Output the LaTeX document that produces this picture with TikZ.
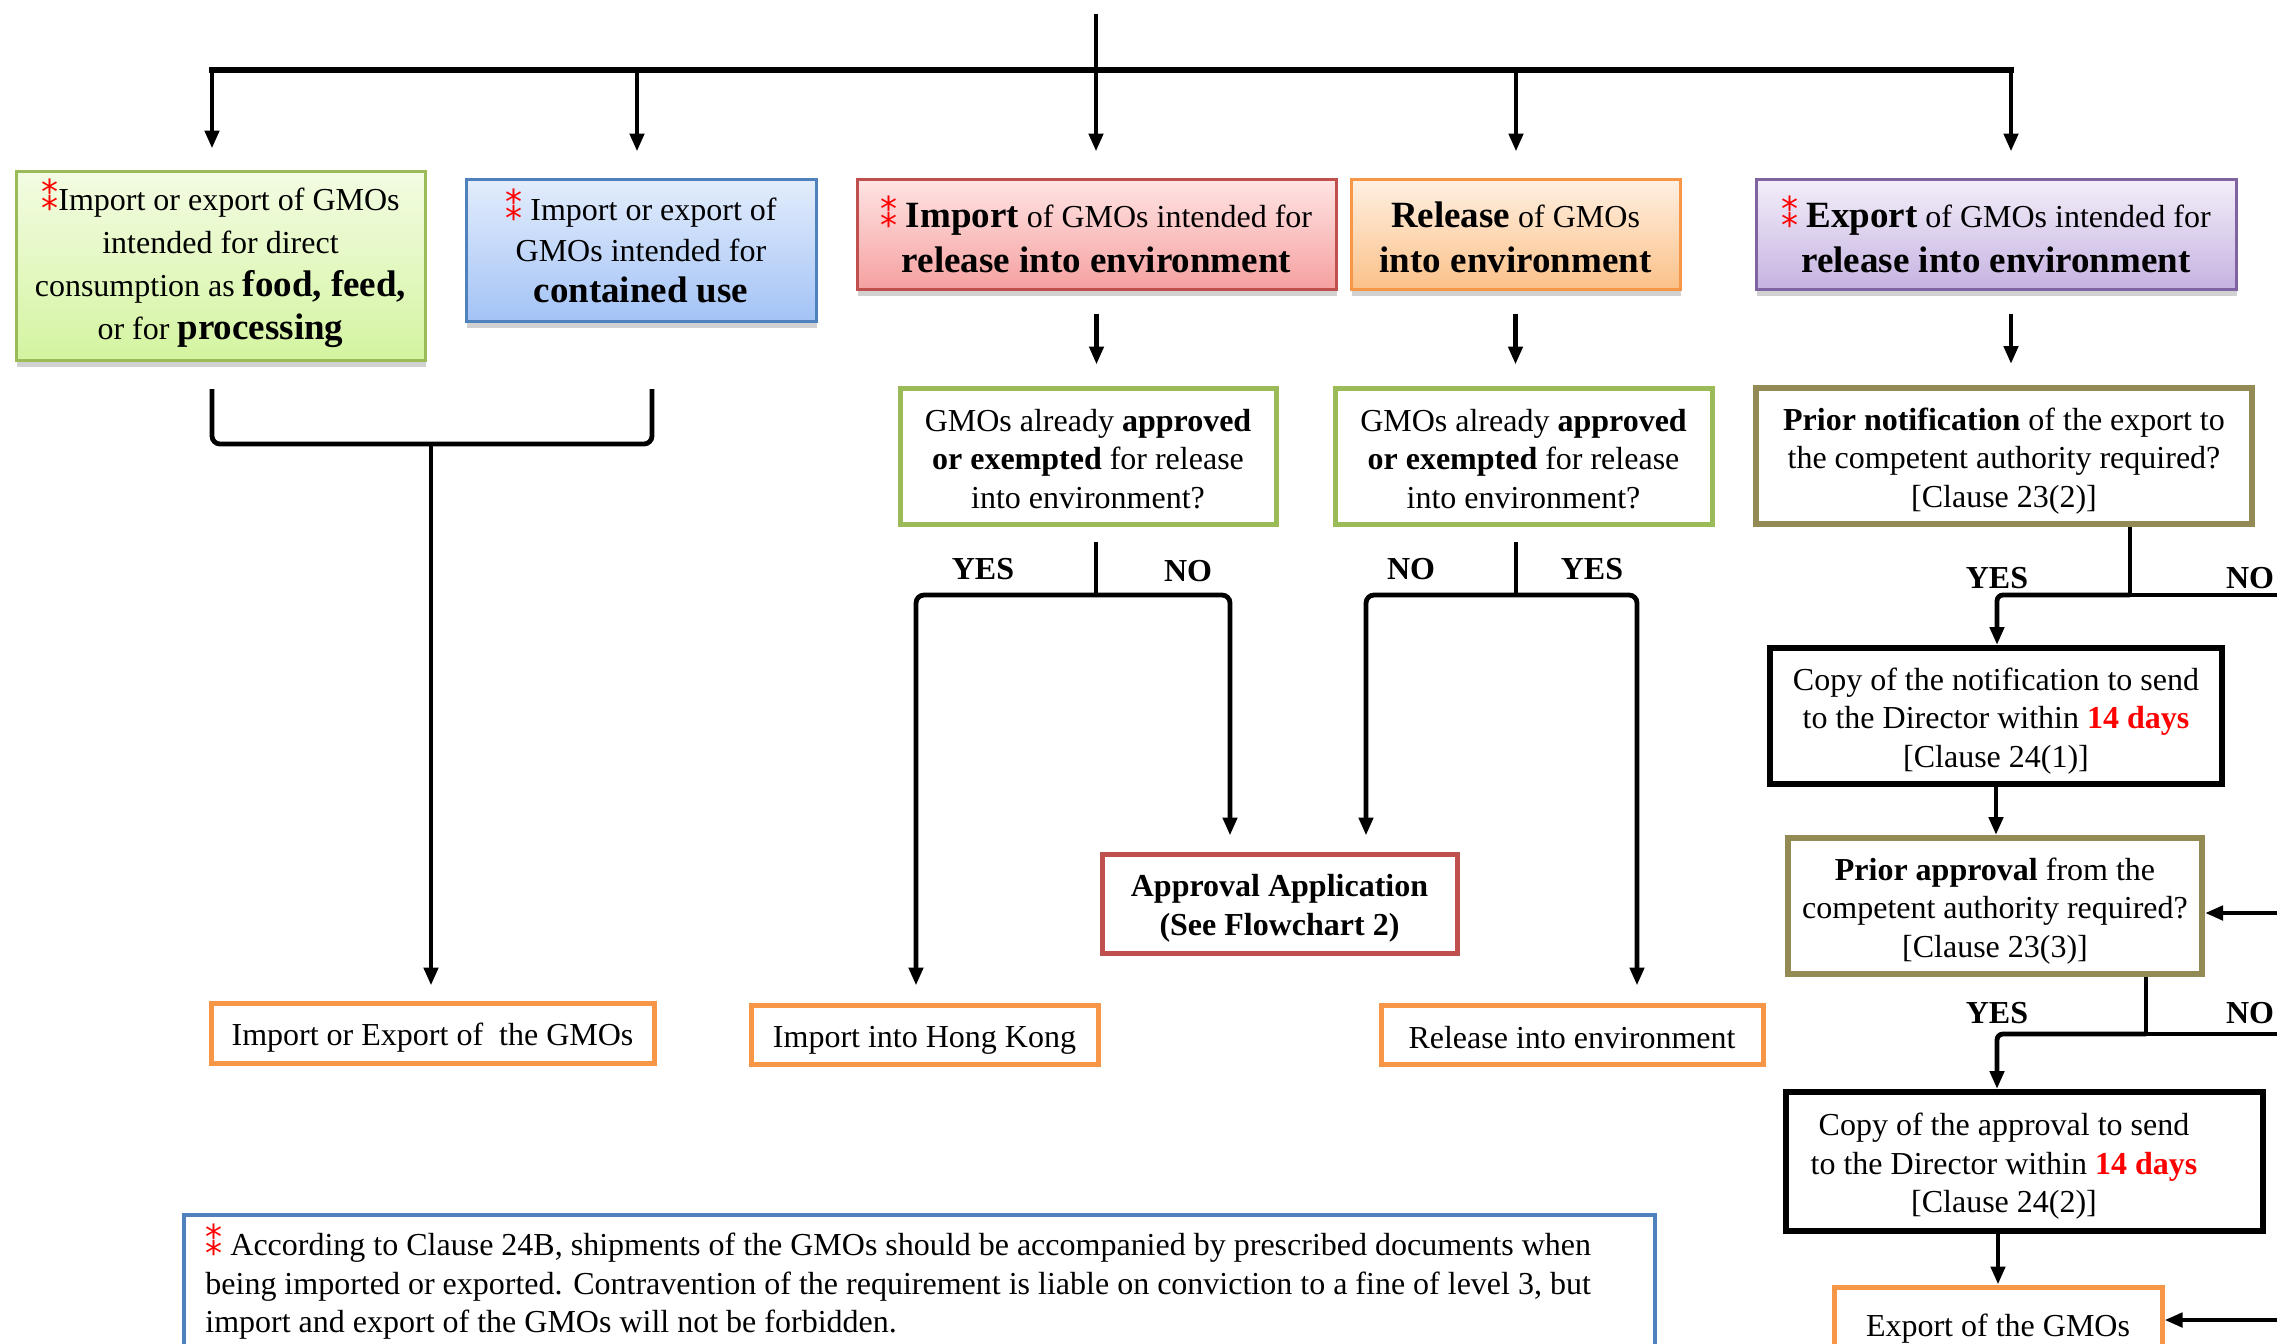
\documentclass[tikz,border=0pt]{standalone}
\usepackage{fontspec}
\setmainfont{Liberation Serif}
\newfontfamily\symfont{DejaVu Sans}
\usepackage{graphicx}
\usetikzlibrary{arrows.meta,shadows,calc}

\definecolor{grnB}{HTML}{9BBB59}\definecolor{grnT}{HTML}{F3FCE3}\definecolor{grnL}{HTML}{D4F4A0}
\definecolor{bluB}{HTML}{4F81BD}\definecolor{bluT}{HTML}{E3EDFC}\definecolor{bluL}{HTML}{A3C3F6}
\definecolor{redB}{HTML}{C0504D}\definecolor{redT}{HTML}{FFE4E4}\definecolor{redL}{HTML}{F5A1A0}
\definecolor{orgB}{HTML}{F79646}\definecolor{orgT}{HTML}{FFF0E2}\definecolor{orgL}{HTML}{FBC189}
\definecolor{purB}{HTML}{8064A2}\definecolor{purT}{HTML}{F3EEF9}\definecolor{purL}{HTML}{C6B3E1}
\definecolor{oliB}{HTML}{948A54}

\newcommand{\redstar}{\textcolor{red}{\smash{\symfont\fontsize{17}{17}\selectfont ⁑}}}
\newcommand{\bigbf}{\fontsize{18.5}{19}\selectfont\bfseries}
\newcommand{\st}{\rule{0pt}{16pt}}
\newcommand{\sts}{\rule{0pt}{14pt}}

\tikzset{
  box/.style={draw, inner sep=0pt, align=center},
  shad/.style={drop shadow={shadow xshift=0.5pt, shadow yshift=-3.5pt, fill=black!60, opacity=0.3}},
  greenbox/.style={box, line width=1.5pt, draw=grnB, top color=grnT, bottom color=grnL, shad},
  bluebox/.style={box, line width=1.5pt, draw=bluB, top color=bluT, bottom color=bluL, shad},
  redbox/.style={box, line width=1.5pt, draw=redB, top color=redT, bottom color=redL, shad},
  orangebox/.style={box, line width=1.5pt, draw=orgB, top color=orgT, bottom color=orgL, shad},
  purplebox/.style={box, line width=1.5pt, draw=purB, top color=purT, bottom color=purL, shad},
  qgreen/.style={box, line width=2.5pt, draw=grnB, fill=white},
  qolive/.style={box, line width=3pt, draw=oliB, fill=white},
  qblack/.style={box, line width=3pt, draw=black, fill=white},
  endbox/.style={box, line width=2.5pt, draw=orgB, fill=white},
  appbox/.style={box, line width=2.5pt, draw=redB, fill=white},
  ln/.style={draw=black, line width=2.4pt},
  bar/.style={draw=black, line width=3pt, line cap=rect},
  arr/.style={ln, -{Triangle[length=9pt,width=7pt]}},
  lab/.style={font=\fontsize{16}{19}\selectfont\bfseries, inner sep=0pt},
}

\begin{document}
\begin{tikzpicture}[x=0.5pt,y=-0.5pt, every node/.style={font=\fontsize{16}{19.25}\selectfont}]
\useasboundingbox (0,0) rectangle (2277,1344);
\clip (0,0) rectangle (2277,1344);

% ---------- top row ----------
\node[greenbox, minimum width=204.5pt, minimum height=94.5pt, font=\fontsize{16}{21.5}\selectfont] (A) at (220.5,265.5)
  {\rule{0pt}{14pt}\redstar Import or export of GMOs\\ intended for direct\\ consumption as {\bigbf food, feed,}\\ or for {\bigbf processing}};
\node[bluebox, minimum width=175pt, minimum height=71pt, font=\fontsize{16}{20.5}\selectfont] (B) at (641,250)
  {\redstar{} Import or export of\\ GMOs intended for\\ {\bigbf contained use}};
\node[redbox, minimum width=239.5pt, minimum height=55pt, font=\fontsize{16}{22.5}\selectfont] (C) at (1096.5,234)
  {\rule{0pt}{16pt}\redstar{} {\bigbf Import} of GMOs intended for\\ {\bigbf release into environment}};
\node[orangebox, minimum width=164.5pt, minimum height=55pt, font=\fontsize{16}{22.5}\selectfont] (D) at (1515.5,234)
  {\rule{0pt}{16pt}{\bigbf Release} of GMOs\\ {\bigbf into environment}};
\node[purplebox, minimum width=240pt, minimum height=55pt, font=\fontsize{16}{22.5}\selectfont] (E) at (1996,234)
  {\rule{0pt}{16pt}\redstar{} {\bigbf Export} of GMOs intended for\\ {\bigbf release into environment}};

% ---------- question boxes ----------
\node[qgreen, minimum width=188pt, minimum height=68pt] (F) at (1088,456)
  {\sts GMOs already \textbf{approved}\\ \textbf{or exempted} for release\\ into environment?};
\node[qgreen, minimum width=188.5pt, minimum height=68pt] (G) at (1523.5,456)
  {\sts GMOs already \textbf{approved}\\ \textbf{or exempted} for release\\ into environment?};
\node[qolive, minimum width=248pt, minimum height=68pt] (H) at (2004,456)
  {\st\textbf{Prior notification} of the export to\\ the competent authority required?\\ {[}Clause 23(2)]};
\node[qblack, minimum width=226pt, minimum height=68pt] (I) at (1996,716)
  {\st Copy of the notification to send\\ to the Director within \textcolor{red}{\textbf{14 days}}\\ {[}Clause 24(1)]};
\node[qolive, minimum width=207pt, minimum height=68pt] (J) at (1995,906)
  {\st\textbf{Prior approval} from the\\ competent authority required?\\ {[}Clause 23(3)]};
\node[qblack, minimum width=238.5pt, minimum height=69.5pt] (K) at (2024.5,1161.5) {};
\node[align=center, inner sep=0pt] (Kt) at (2004,1161.5)
  {\st Copy of the approval to send\\ to the Director within \textcolor{red}{\textbf{14 days}}\\ {[}Clause 24(2)]};
\node[endbox, minimum width=164pt, minimum height=37pt] (L) at (1998,1324) {\st Export of the GMOs};

% ---------- outcomes ----------
\node[endbox, minimum width=221.5pt, minimum height=30pt] (M) at (432.5,1033) {\st Import or Export of\ \ the GMOs};
\node[endbox, minimum width=173.5pt, minimum height=29.5pt] (N) at (924.5,1034.5) {\st Import into Hong Kong};
\node[endbox, minimum width=191pt, minimum height=29.5pt] (Q) at (1572,1034.5) {\sts Release into environment};
\node[appbox, minimum width=177.5pt, minimum height=49.5pt] (P) at (1279.5,903.5)
  {\st\textbf{Approval Application}\\ \textbf{(See Flowchart 2)}};

% ---------- note ----------
\node[box, draw=bluB, line width=2pt, minimum width=735.5pt, minimum height=105pt, anchor=north west] (note) at (182,1213) {};
\node[anchor=north west, align=left, inner sep=0pt] (notetext) at (205,1233)
  {\redstar{} According to Clause 24B, shipments of the GMOs should be accompanied by prescribed documents when\\
   being imported or exported. Contravention of the requirement is liable on conviction to a fine of level 3, but\\
   import and export of the GMOs will not be forbidden.};

% ---------- YES / NO labels ----------
\node[lab] (yF) at (983,569) {YES};
\node[lab] (nF) at (1188,571) {NO};
\node[lab] (nG) at (1411,569) {NO};
\node[lab] (yG) at (1592,569) {YES};
\node[lab] (yH) at (1997,578) {YES};
\node[lab] (nH) at (2250,578) {NO};
\node[lab] (yJ) at (1997,1013) {YES};
\node[lab] (nJ) at (2250,1013) {NO};

% ---------- top bus ----------
\coordinate (topin) at (1096,14);
\coordinate (busC) at (1096,70);
\coordinate (busL) at (212,70);
\coordinate (busR) at (2011,70);
\coordinate (bus2) at (637,70);
\coordinate (bus4) at (1516,70);
\draw[ln] (topin) -- (busC);
\draw[bar] (busL) -- (busR);
\draw[arr, shorten >=10.5pt] (busL) -- (busL |- A.north);
\draw[arr, shorten >=13pt] (bus2) -- (bus2 |- B.north);
\draw[arr, shorten >=13pt] (busC) -- (busC |- C.north);
\draw[arr, shorten >=13pt] (bus4) -- (bus4 |- D.north);
\draw[arr, shorten >=13pt] (busR) -- (busR |- E.north);

\draw[arr, shorten <=11.5pt, shorten >=10.5pt] (C.south) -- (C.south |- F.north);
\draw[arr, shorten <=11.5pt, shorten >=10.5pt] (D.south) -- (D.south |- G.north);
\draw[arr, shorten <=11.5pt, shorten >=10.5pt] (busR |- E.south) -- (busR |- H.north);

% ---------- left bracket ----------
\coordinate (lb1) at (212,389);
\coordinate (lb2) at (652,389);
\coordinate (lbm) at (431,444);
\draw[ln, rounded corners=4pt] (lb1) |- (lbm) -| (lb2);
\draw[arr, shorten >=7.5pt] (lbm) -- (lbm |- M.north);

% ---------- F branch ----------
\coordinate (fs) at (1096,542);
\coordinate (fj) at (1096,595);
\coordinate (fl) at (916,595);
\coordinate (fr) at (1230,595);
\draw[ln] (fs) -- (fj);
\draw[arr, rounded corners=4pt, shorten >=8.5pt] (fj) -| (fl |- N.north);
\draw[arr, rounded corners=4pt, shorten >=8pt] (fj) -| (fr |- P.north);

% ---------- G branch ----------
\coordinate (gs) at (1516,542);
\coordinate (gj) at (1516,595);
\coordinate (gl) at (1366,595);
\coordinate (gr) at (1637,595);
\draw[ln] (gs) -- (gj);
\draw[arr, rounded corners=4pt, shorten >=8pt] (gj) -| (gl |- P.north);
\draw[arr, rounded corners=4pt, shorten >=8.5pt] (gj) -| (gr |- Q.north);

% ---------- export column ----------
\coordinate (hj) at (2130,595);
\coordinate (hl) at (1997,595);
\coordinate (hno) at (2300,595);
\draw[ln] (H.south -| hj) -- (hj);
\draw[arr, rounded corners=3pt] (hj) -| (hl |- I.north);
\draw[ln] (hj) -- (hno);

\draw[arr] (I.south) -- (I.south |- J.north);
\coordinate (jin) at (2300,913);
\draw[arr] (jin) -- (jin -| J.east);

\coordinate (jj) at (2146,1034);
\coordinate (jl) at (1997,1034);
\coordinate (jno) at (2300,1034);
\draw[ln] (J.south -| jj) -- (jj);
\draw[arr, rounded corners=3pt] (jj) -| (jl |- K.north);
\draw[ln] (jj) -- (jno);

\draw[arr] (K.south -| L.north) -- (L.north);
\coordinate (lin) at (2300,1320);
\draw[arr] (lin) -- (lin -| L.east);
\end{tikzpicture}
\end{document}
